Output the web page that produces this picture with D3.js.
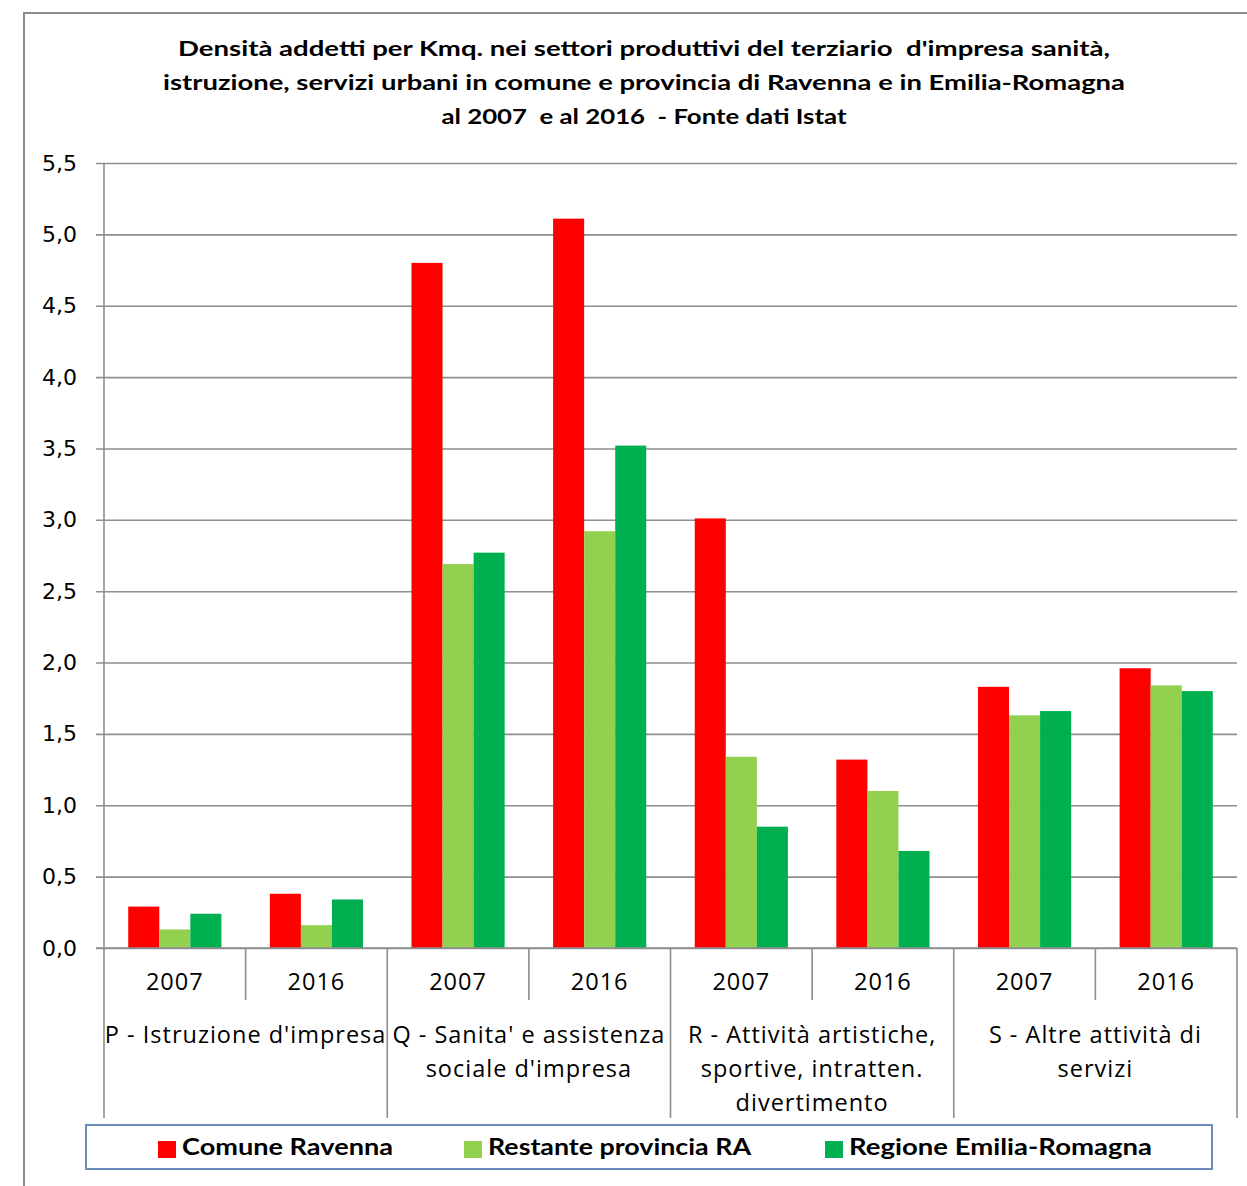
<!DOCTYPE html>
<html>
<head>
<meta charset="utf-8">
<script src="https://cdn.jsdelivr.net/npm/d3@7"></script>
<style>
  html, body { margin: 0; padding: 0; background: #fff; }
  svg { display: block; }
  text { white-space: pre; }
</style>
</head>
<body>
<svg id="chart" width="1247" height="1186"></svg>
<script>
// Density of employees per km² in tertiary sectors (Istat)
const titleLines = [
  "Densità addetti per Kmq. nei settori produttivi del terziario  d'impresa sanità,",
  "istruzione, servizi urbani in comune e provincia di Ravenna e in Emilia-Romagna",
  "al 2007  e al 2016  - Fonte dati Istat"
];
const sectors = ["P", "Q", "R", "S"];
const sectorLabels = [
  ["P - Istruzione d'impresa"],
  ["Q - Sanita' e assistenza", "sociale d'impresa"],
  ["R - Attività artistiche,", "sportive, intratten.", "divertimento"],
  ["S - Altre attività di", "servizi"]
];
const years = ["2007", "2016"];
const seriesNames = ["Comune Ravenna", "Restante provincia RA", "Regione Emilia-Romagna"];
const seriesColors = ["#ff0000", "#92d050", "#00b050"];
// values per sector/year: P2007, P2016, Q2007, Q2016, R2007, R2016, S2007, S2016
const comuneRavenna      = [0.29, 0.38, 4.80, 5.11, 3.01, 1.32, 1.83, 1.96];
const restanteProvincia  = [0.13, 0.16, 2.69, 2.92, 1.34, 1.10, 1.63, 1.84];
const regioneER          = [0.24, 0.34, 2.77, 3.52, 0.85, 0.68, 1.66, 1.80];
const yTicks = [0, 0.5, 1, 1.5, 2, 2.5, 3, 3.5, 4, 4.5, 5, 5.5];

const seriesValues = [comuneRavenna, restanteProvincia, regioneER];
const slots = [];
sectors.forEach(s => years.forEach(y => slots.push(s + "-" + y)));

const svg = d3.select("#chart");
const gridColor = "#8e8e8e";
const plotL = 104, plotR = 1237, plotT = 163, plotB = 948;

// outer chart frame
svg.append("path")
  .attr("d", `M24,1186 V13 H1247`)
  .attr("fill", "none").attr("stroke", "#8c8c8c").attr("stroke-width", 2);

// title
const title = svg.append("g")
  .attr("font-family", "Lato, 'Open Sans', sans-serif")
  .attr("font-weight", "bold").attr("font-size", 21).attr("fill", "#000")
  .attr("text-anchor", "middle");
const titleWidths = [932, 962, 405];
titleLines.forEach((t, i) => {
  title.append("text")
    .attr("x", 644).attr("y", 56 + i * 34)
    .attr("textLength", titleWidths[i]).attr("lengthAdjust", "spacingAndGlyphs")
    .text(t);
});

const y = d3.scaleLinear().domain([0, 5.5]).range([plotB, plotT]);
const x0 = d3.scaleBand().domain(slots).range([plotL, plotR]).padding(0);
const x1 = d3.scaleBand().domain(d3.range(3)).range([0, x0.bandwidth()])
  .paddingInner(0).paddingOuter(0.78);

// gridlines + y axis
const yAxis = d3.axisLeft(y).tickValues(yTicks)
  .tickSize(plotR - plotL + 8)
  .tickFormat(d => d3.format(".1f")(d).replace(".", ","));
const yg = svg.append("g").attr("transform", `translate(${plotR},0)`).call(yAxis);
yg.select(".domain").remove();
yg.selectAll(".tick line").attr("stroke", gridColor).attr("stroke-width", 1.6);
yg.selectAll(".tick text")
  .attr("x", -(plotR - 77))
  .attr("font-family", "'DejaVu Sans', Verdana, sans-serif")
  .attr("font-size", 22).attr("fill", "#000");

// left axis line
svg.append("line")
  .attr("x1", plotL).attr("x2", plotL).attr("y1", plotT).attr("y2", plotB)
  .attr("stroke", gridColor).attr("stroke-width", 1.6);

// bars
const barG = svg.append("g");
slots.forEach((slot, si) => {
  seriesValues.forEach((vals, k) => {
    barG.append("rect")
      .attr("x", x0(slot) + x1(k))
      .attr("y", y(vals[si]))
      .attr("width", x1.bandwidth())
      .attr("height", y(0) - y(vals[si]))
      .attr("fill", seriesColors[k]);
  });
});

// category axis: baseline and dividers
svg.append("line")
  .attr("x1", plotL - 8).attr("x2", plotR).attr("y1", plotB).attr("y2", plotB)
  .attr("stroke", gridColor).attr("stroke-width", 1.6);
const bounds = slots.map(s => x0(s)).concat([plotR]);
bounds.forEach((bx, i) => {
  svg.append("line")
    .attr("x1", bx).attr("x2", bx)
    .attr("y1", plotB).attr("y2", i % 2 === 0 ? 1118 : 1000)
    .attr("stroke", gridColor).attr("stroke-width", 1.6);
});

const labelFont = "'Open Sans', sans-serif";
// year labels
svg.append("g").selectAll("text").data(slots).join("text")
  .attr("x", d => x0(d) + x0.bandwidth() / 2)
  .attr("y", 990)
  .attr("text-anchor", "middle")
  .attr("font-family", labelFont).attr("font-size", 23.5).attr("fill", "#000")
  .attr("letter-spacing", 1)
  .text(d => d.split("-")[1]);

// sector labels
sectors.forEach((s, i) => {
  const cx = x0(s + "-2007") + x0.bandwidth();
  sectorLabels[i].forEach((line, j) => {
    svg.append("text")
      .attr("x", cx).attr("y", 1043 + j * 34)
      .attr("text-anchor", "middle")
      .attr("font-family", labelFont).attr("font-size", 23.5).attr("fill", "#000")
      .attr("letter-spacing", 1)
      .text(line);
  });
});

// legend
svg.append("rect")
  .attr("x", 86).attr("y", 1125).attr("width", 1126).attr("height", 44)
  .attr("fill", "#fff").attr("stroke", "#6c8ebf").attr("stroke-width", 2);
const legendX = [158, 464, 825];
const legendW = [211, 263, 303];
seriesNames.forEach((name, k) => {
  svg.append("rect")
    .attr("x", legendX[k]).attr("y", 1141).attr("width", 18).attr("height", 17)
    .attr("fill", seriesColors[k]);
  svg.append("text")
    .attr("x", legendX[k] + 24).attr("y", 1155)
    .attr("font-family", "Lato, 'Open Sans', sans-serif")
    .attr("font-weight", "bold").attr("font-size", 22).attr("fill", "#000")
    .attr("textLength", legendW[k]).attr("lengthAdjust", "spacingAndGlyphs")
    .text(name);
});
</script>
</body>
</html>
